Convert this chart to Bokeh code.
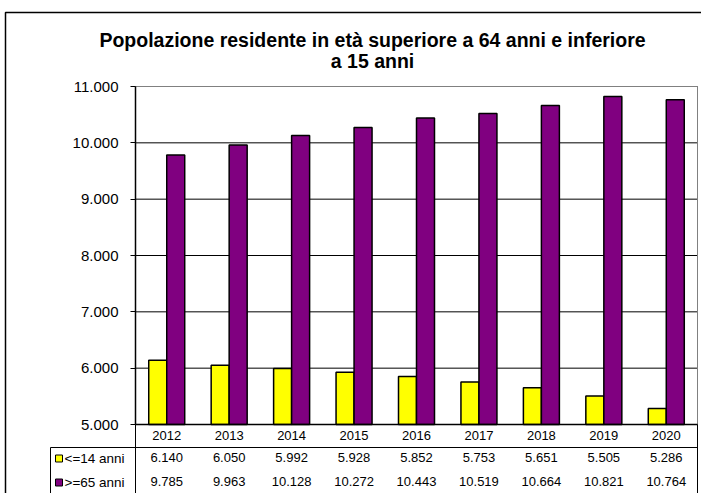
import numpy as np
from bokeh.plotting import figure
from bokeh.models import Range1d, FixedTicker, LinearAxis
from bokeh.core.properties import value
from bokeh.embed import file_html
from bokeh.resources import INLINE

years = ["2012", "2013", "2014", "2015", "2016", "2017", "2018", "2019", "2020"]
under15 = [6140, 6050, 5992, 5928, 5852, 5753, 5651, 5505, 5286]
over65 = [9785, 9963, 10128, 10272, 10443, 10519, 10664, 10821, 10764]
series_names = ["<=14 anni", ">=65 anni"]
y_ticks = [5000, 6000, 7000, 8000, 9000, 10000, 11000]
title_lines = ["Popolazione residente in età superiore a 64 anni e inferiore", "a 15 anni"]

YELLOW = "#FFFF00"
PURPLE = "#800080"
FONT = "Liberation Sans"

def it_fmt(v):
    return f"{v:,}".replace(",", ".")

u_labels = [it_fmt(v) for v in under15]
o_labels = [it_fmt(v) for v in over65]

# ---- layout (pixels of the 701x493 canvas) ----
W, H = 701, 493
PL, PR, PT, PB = 135, 697, 86, 424          # plot area
YMIN, YMAX = y_ticks[0], y_ticks[-1]
NCAT = len(years)
kx = (PR - PL) / NCAT                        # px per category
ky = (YMAX - YMIN) / (PB - PT)               # data units per px

def dx(px):
    return (px - PL) / kx

def dy(py):
    return YMIN + (PB - py) * ky

p = figure(x_range=Range1d(dx(0), dx(W)), y_range=Range1d(dy(H), dy(0)),
           width=W, height=H, output_backend="svg", toolbar_location=None,
           min_border=0)
p.outline_line_color = None
p.background_fill_color = "white"
p.border_fill_color = "white"
p.grid.grid_line_color = None

x_pos = np.arange(NCAT) + 0.5   # category centres
bar_w = 18 / kx

# horizontal grid lines inside the plot area
p.segment(x0=0, x1=NCAT, y0=y_ticks, y1=y_ticks, line_color="black", line_width=1)
# plot-area border (top and right, grey)
p.line(x=[0, NCAT, NCAT], y=[YMAX, YMAX, YMIN], line_color="#808080", line_width=1)

# bars
p.vbar(x=x_pos - bar_w / 2, top=under15, bottom=YMIN, width=bar_w,
       fill_color=YELLOW, line_color="black", line_width=1.5)
p.vbar(x=x_pos + bar_w / 2, top=over65, bottom=YMIN, width=bar_w,
       fill_color=PURPLE, line_color="black", line_width=1.5)

# y axis
ya = p.yaxis[0]
ya.fixed_location = 0
ya.bounds = (YMIN, YMAX)
ya.ticker = FixedTicker(ticks=y_ticks)
ya.major_label_overrides = {v: it_fmt(v) for v in y_ticks}
ya.major_label_text_font = FONT
ya.major_label_text_font_size = "15px"
ya.major_label_text_color = "black"
ya.major_tick_out = 5
ya.major_tick_in = 0
ya.minor_tick_out = 0
ya.minor_tick_in = 0
ya.major_label_standoff = 12
ya.axis_line_color = "black"
ya.axis_line_width = 1.5
ya.major_tick_line_color = "black"

def style_row_axis(ax, labels, standoff):
    ax.bounds = (0, NCAT)
    ax.ticker = FixedTicker(ticks=list(x_pos))
    ax.major_label_overrides = {float(x): t for x, t in zip(x_pos, labels)}
    ax.major_label_text_font = FONT
    ax.major_label_text_font_size = "13px"
    ax.major_label_text_color = "black"
    ax.major_tick_out = 0
    ax.major_tick_in = 0
    ax.major_tick_line_color = None
    ax.minor_tick_line_color = None
    ax.major_label_standoff = standoff
    ax.axis_line_color = "black"
    ax.axis_line_width = 1

# year row: the category axis
xa = p.xaxis[0]
xa.fixed_location = YMIN
style_row_axis(xa, years, 6)
xa.axis_line_width = 1.5

# data table rows
ax_u = LinearAxis(fixed_location=dy(447))
style_row_axis(ax_u, u_labels, 5)
p.add_layout(ax_u, "below")

ax_o = LinearAxis(fixed_location=dy(470))
style_row_axis(ax_o, o_labels, 6)
ax_o.axis_line_color = None
p.add_layout(ax_o, "below")

# table frame lines
p.segment(x0=[0, NCAT, dx(50), dx(50)], x1=[0, NCAT, dx(50), 0],
          y0=[YMIN, YMIN, dy(447), dy(447)], y1=[dy(H), dy(H), dy(H), dy(447)],
          line_color="black", line_width=1)
# outer chart border (left and top)
p.line(x=[dx(5), dx(5), dx(W + 5)], y=[dy(H + 5), dy(12), dy(12)],
       line_color="black", line_width=1.5)

# legend keys in the table
row_y = [dy(458), dy(482)]
p.scatter(x=[dx(58.5)] * 2, y=row_y, marker="square", size=7,
          fill_color=[YELLOW, PURPLE], line_color="black", line_width=1)
p.text(x=[dx(64)] * 2, y=row_y, text=series_names, text_font=value(FONT),
       text_font_size="13.5px", text_baseline="middle", text_color="black")

# title
p.text(x=[dx(372)] * 2, y=[dy(39.5), dy(60.5)], text=title_lines, text_font=value(FONT),
       text_font_style="bold", text_font_size="19.5px", text_align="center",
       text_baseline="middle", text_color="black")

open("out.html", "w").write(file_html(p, INLINE))
